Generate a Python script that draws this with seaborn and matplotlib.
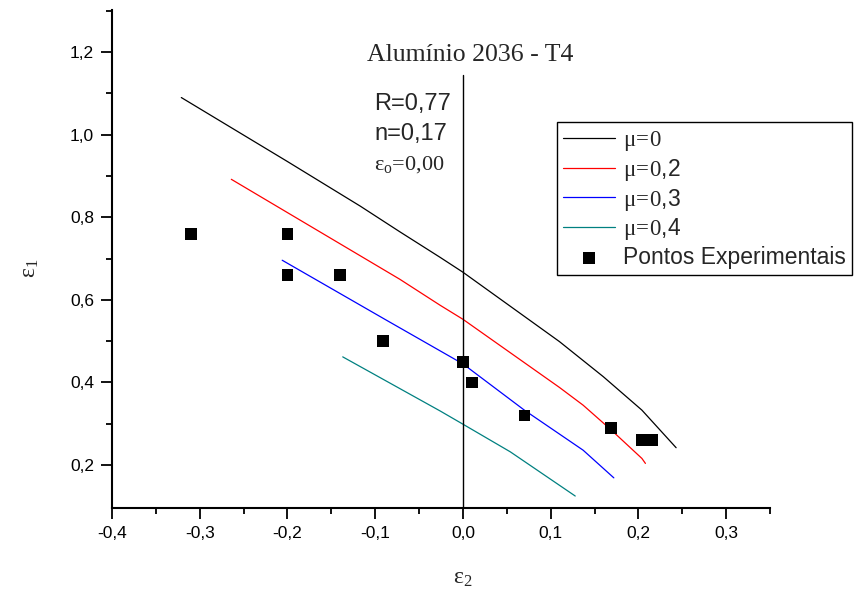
import matplotlib
matplotlib.use('Agg')
import matplotlib.pyplot as plt
import seaborn as sns
import pandas as pd

# ---------------- data ----------------
mu0_x = [-0.321, -0.200, -0.117, -0.072, -0.026, 0.000, 0.110, 0.160, 0.204, 0.243]
mu0_y = [1.090, 0.935, 0.827, 0.765, 0.703, 0.667, 0.499, 0.414, 0.333, 0.242]

mu02_x = [-0.264, -0.072, -0.026, 0.000, 0.110, 0.137, 0.169, 0.204, 0.208]
mu02_y = [0.892, 0.650, 0.587, 0.553, 0.388, 0.345, 0.285, 0.216, 0.204]

mu03_x = [-0.206, -0.089, 0.000, 0.070, 0.137, 0.172]
mu03_y = [0.696, 0.553, 0.445, 0.333, 0.236, 0.169]

mu04_x = [-0.137, -0.026, 0.000, 0.054, 0.128]
mu04_y = [0.462, 0.331, 0.299, 0.232, 0.125]

exp_x = [-0.310, -0.200, -0.200, -0.140, -0.091, 0.000, 0.010, 0.070, 0.169, 0.204, 0.216]
exp_y = [0.760, 0.760, 0.660, 0.660, 0.500, 0.450, 0.400, 0.320, 0.290, 0.260, 0.260]

series_labels = [r'$\mathrm{μ\!=\!0}$', r'$\mathrm{μ\!=\!0}$,2', r'$\mathrm{μ\!=\!0}$,3', r'$\mathrm{μ\!=\!0}$,4']
series_colors = ['#000000', '#ff0000', '#0000ff', '#008080']
exp_label = 'Pontos Experimentais'

xticks = [-0.4, -0.3, -0.2, -0.1, 0.0, 0.1, 0.2, 0.3]
xtick_labels = ['-0,4', '-0,3', '-0,2', '-0,1', '0,0', '0,1', '0,2', '0,3']
xminor = [-0.35, -0.25, -0.15, -0.05, 0.05, 0.15, 0.25, 0.35]
yticks = [0.2, 0.4, 0.6, 0.8, 1.0, 1.2]
ytick_labels = ['0,2', '0,4', '0,6', '0,8', '1,0', '1,2']
yminor = [0.3, 0.5, 0.7, 0.9, 1.1, 1.3]

title_text = 'Alumínio 2036 - T4'
param_R = 'R=0,77'
param_n = 'n=0,17'
param_e0 = r'$\mathrm{ε}_\mathrm{o}$=0,00'
vline_top = 1.144

# ---------------- style ----------------
sns.set_theme(style='ticks')
plt.rcParams['font.family'] = ['Liberation Sans', 'DejaVu Sans']
plt.rcParams['mathtext.fontset'] = 'custom'
plt.rcParams['mathtext.rm'] = 'Liberation Serif'
plt.rcParams['mathtext.it'] = 'Liberation Serif:italic'
plt.rcParams['mathtext.bf'] = 'Liberation Serif:bold'

W, H = 862, 595
fig = plt.figure(figsize=(W / 100, H / 100), dpi=100)
L, R, T, B = 112, 770, 10, 508
ax = fig.add_axes([L / W, 1 - B / H, (R - L) / W, (B - T) / H])

curves = [(mu0_x, mu0_y), (mu02_x, mu02_y), (mu03_x, mu03_y), (mu04_x, mu04_y)]
for (cx, cy), lab, col in zip(curves, series_labels, series_colors):
    df = pd.DataFrame({'x': cx, 'y': cy})
    sns.lineplot(data=df, x='x', y='y', ax=ax, color=col, lw=0.9, sort=False,
                 estimator=None, label=lab)

sns.scatterplot(x=exp_x, y=exp_y, ax=ax, marker='s', s=70, color='black',
                edgecolor='none', label=exp_label, zorder=5)

ax.plot([0, 0], [0.0, vline_top], color='black', lw=1.0, zorder=3)

ax.set_xlim(-0.4, 0.35)
ax.set_ylim(0.096, 1.302)
ax.set_xticks(xticks)
ax.set_xticklabels(xtick_labels)
ax.set_xticks(xminor, minor=True)
ax.set_yticks(yticks)
ax.set_yticklabels(ytick_labels)
ax.set_yticks(yminor, minor=True)
ax.set_xlabel('')
ax.set_ylabel('')

for s in ['top', 'right']:
    ax.spines[s].set_visible(False)
for s in ['left', 'bottom']:
    ax.spines[s].set_linewidth(1.5)
    ax.spines[s].set_color('black')
ax.tick_params(which='major', length=8, width=1.3, direction='out', labelsize=12.5,
               pad=5, colors='black')
ax.tick_params(which='minor', length=4.5, width=1.3, direction='out', colors='black')

leg = ax.legend(loc='upper left', bbox_to_anchor=(557 / W, 1 - 122 / H),
                bbox_transform=fig.transFigure, borderaxespad=0, frameon=True,
                fancybox=False, edgecolor='black', fontsize=16.5, handlelength=2.3,
                handletextpad=0.35, borderpad=0.25, labelspacing=0.17)
leg.get_frame().set_linewidth(1.0)
leg.get_frame().set_alpha(1)

fig.text(470 / W, 1 - 55 / H, title_text, family='Liberation Serif', fontsize=18.5,
         ha='center', va='center')
fig.text(374 / W, 1 - 104 / H, param_R, fontsize=17, ha='left', va='center')
fig.text(374 / W, 1 - 134 / H, param_n, fontsize=17, ha='left', va='center')
fig.text(374 / W, 1 - 165 / H, param_e0, family='Liberation Serif', fontsize=16,
         ha='left', va='center')

fig.text(463 / W, 1 - 578 / H, r'$\mathrm{ε}_\mathrm{2}$', fontsize=17, ha='center', va='center')
fig.text(30 / W, 1 - 268 / H, r'$\mathrm{ε}_\mathrm{1}$', fontsize=17, ha='center', va='center',
         rotation=90)

fig.savefig('out.png', dpi=100)
